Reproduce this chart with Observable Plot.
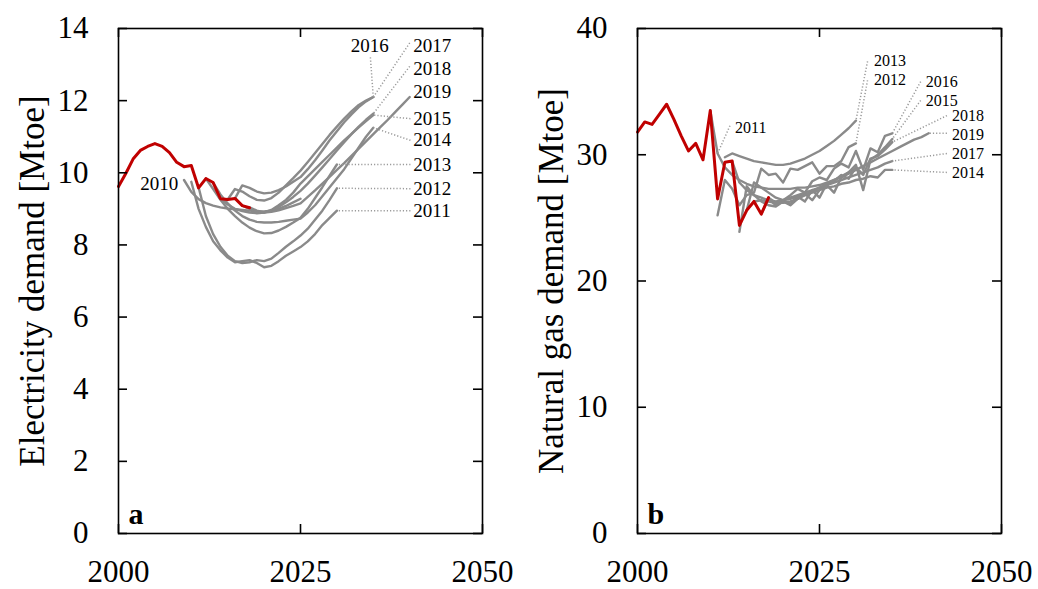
<!DOCTYPE html>
<html><head><meta charset="utf-8">
<script src="https://cdn.jsdelivr.net/npm/d3@7"></script>
<script src="https://cdn.jsdelivr.net/npm/@observablehq/plot@0.6"></script>
<style>
body{margin:0;background:#fff}
#wrap{display:flex;width:1038px;height:589px}
</style>
</head><body><div id="wrap"></div>
<script>
// ---------- data ----------
const histYears = [2000,2001,2002,2003,2004,2005,2006,2007,2008,2009,2010,2011,2012,2013,2014,2015,2016,2017,2018];
const elecHist = [9.62,9.98,10.38,10.62,10.73,10.81,10.73,10.56,10.29,10.17,10.2,9.58,9.84,9.73,9.28,9.26,9.29,9.09,9.03];
const gasHist  = [31.8,32.6,32.4,33.2,34.0,32.8,31.5,30.3,30.9,29.6,33.5,26.5,29.4,29.5,24.4,25.6,26.3,25.3,26.6];

const elecNames = ["2010","2011","2012","2013","2014","2015","2016","2017","2018","2019"];
const elecStart = [2009,2010,2011,2012,2013,2014,2015,2016,2017,2018];
const elec2010 = [9.80,9.47,9.27,9.16,9.09,9.04,9.01,8.99,8.97,8.95,8.93,8.93,8.95,9.00,9.08,9.18,9.28];
const elec2011 = [9.75,9.00,8.50,8.10,7.85,7.65,7.52,7.55,7.58,7.50,7.38,7.42,7.55,7.70,7.82,7.94,8.10,8.30,8.55,8.75,8.95];
const elec2012 = [9.60,8.80,8.30,7.95,7.70,7.55,7.50,7.52,7.58,7.55,7.62,7.78,7.95,8.10,8.26,8.45,8.70,8.95,9.25,9.57];
const elec2013 = [9.84,9.55,9.25,9.00,8.80,8.62,8.48,8.38,8.32,8.33,8.40,8.50,8.62,8.75,9.00,9.30,9.60,9.92,10.23];
const elec2014 = [9.73,9.40,9.15,8.95,8.80,8.70,8.64,8.62,8.62,8.64,8.67,8.70,8.73,8.90,9.10,9.35,9.60,9.85,10.10,10.40,10.70,11.00,11.25];
const elec2015 = [9.29,9.12,9.00,8.94,8.90,8.88,8.90,8.97,9.10,9.25,9.45,9.70,9.90,10.10,10.30,10.50,10.70,10.90,11.08,11.26,11.43,11.60];
const elec2016 = [9.26,9.55,9.48,9.35,9.25,9.23,9.30,9.45,9.65,9.85,10.06,10.30,10.55,10.80,11.05,11.28,11.50,11.70,11.88,12.00,12.10];
const elec2017 = [9.29,9.65,9.58,9.48,9.43,9.45,9.52,9.62,9.75,9.88,10.10,10.35,10.62,10.90,11.15,11.40,11.62,11.82,11.98,12.10];
const elec2018 = [9.09,9.00,8.92,8.90,8.95,9.05,9.18,9.33,9.50,9.70,9.92,10.15,10.38,10.62,10.85,11.07,11.28,11.47,11.64];
const elec2019 = [9.04,8.95,8.90,8.92,8.96,9.02,9.08,9.15,9.33,9.51,9.70,9.89,10.08,10.27,10.47,10.67,10.87,11.07,11.27,11.47,11.68,11.89,12.10];
const elecSeries = [elec2010,elec2011,elec2012,elec2013,elec2014,elec2015,elec2016,elec2017,elec2018,elec2019];

const gasNames = ["2011","2012","2013","2014","2015","2016","2017","2018","2019"];
const gasStart = [2010,2011,2012,2013,2014,2015,2016,2017,2018];
const gas2011 = [33.5,30.1,29.0,28.4,28.0,27.7,27.5,27.4,27.3,27.3,27.3,27.3,27.4,27.4,27.5,27.6,27.8,28.0,28.3,28.6,28.9];
const gas2012 = [25.2,28.0,27.3,26.0,26.8,27.0,28.9,28.4,28.5,27.8,28.9,28.8,29.1,29.4,28.5,29.1,29.1,29.5,30.6,30.9];
const gas2013 = [29.8,30.1,29.9,29.7,29.5,29.4,29.3,29.2,29.2,29.3,29.5,29.7,30.0,30.3,30.7,31.1,31.6,32.1,32.7];
const gas2014 = [29.5,27.8,27.2,26.8,26.6,26.4,26.3,26.4,26.5,26.7,26.8,27.0,27.2,27.4,27.5,27.7,27.8,28.0,28.1,28.3,28.2,28.8,28.8];
const gas2015 = [23.9,27.5,26.8,26.3,26.0,25.9,26.3,26.0,26.5,26.9,26.4,27.2,27.6,27.0,28.2,28.6,29.2,27.2,29.6,30.0,30.6,31.25];
const gas2016 = [25.6,27.8,27.4,27.0,26.6,26.4,26.8,27.3,27.0,27.9,28.2,28.0,28.9,29.3,29.0,30.3,28.8,30.5,30.2,31.5,31.7];
const gas2017 = [26.3,26.4,26.3,26.2,26.4,26.6,26.8,27.0,27.2,27.4,27.6,27.8,28.0,28.2,28.4,28.6,28.8,29.0,29.3,29.5];
const gas2018 = [25.3,26.5,26.0,26.3,26.1,26.7,26.3,27.2,26.6,27.7,27.9,28.4,28.1,29.0,28.4,29.7,29.9,30.4,31.0];
const gas2019 = [26.6,26.2,26.2,26.3,26.5,26.8,27.1,27.4,27.7,28.0,28.2,28.5,28.8,29.1,29.4,29.7,30.0,30.3,30.6,30.9,31.2,31.4,31.7];
const gasSeries = [gas2011,gas2012,gas2013,gas2014,gas2015,gas2016,gas2017,gas2018,gas2019];

// label annotations (data units)
const elecLabelX = [2008.2,2040.5,2040.5,2040.5,2040.5,2040.5,2034.5,2040.5,2040.5,2040.5];
const elecLabelY = [9.7,8.95,9.56,10.23,10.9,11.5,13.53,13.53,12.89,12.25];
const elecLabelAnchor = ["end","start","start","start","start","start","middle","start","start","start"];
const elecLeaderX = [null,2040.1,2040.1,2040.1,2040.1,2040.1,2034.6,2040.0,2040.0,null];
const elecLeaderY = [null,8.95,9.56,10.23,10.9,11.5,13.2,13.6,12.95,null];

const gasLabelX = [2013.4,2032.5,2032.5,2043.2,2039.6,2039.6,2043.2,2043.2,2043.2];
const gasLabelY = [32.1,35.9,37.4,28.6,34.3,35.8,30.1,33.1,31.6];
const gasLabelAnchor = ["start","start","start","start","start","start","start","start","start"];
const gasLeaderX = [2012.7,2031.6,2031.6,2042.5,2038.9,2038.9,2042.5,2042.5,2042.5];
const gasLeaderY = [32.3,35.9,37.4,28.6,34.3,35.8,30.1,33.1,31.7];
const gasLeaderTo = [2011,2030,2030,2035,2035,2035,2035,2035,2040];

const xTicks = [2000,2025,2050];
const elecTicks = [0,2,4,6,8,10,12,14];
const gasTicks = [0,10,20,30,40];

// ---------- build ----------
const W = 519, H = 589, ML = 118, MR = 37, MT = 28, MB = 56, TICK = 9;
const PW = W - ML - MR, PH = H - MT - MB;

function rows(names, starts, series) {
  const out = [];
  names.forEach((n, i) => series[i].forEach((v, j) => out.push({series: n, year: starts[i] + j, value: v})));
  return out;
}

function panel(cfg) {
  const proj = rows(cfg.names, cfg.starts, cfg.series);
  const hist = histYears.map((y, i) => ({year: y, value: cfg.hist[i]}));
  const labels = cfg.names.map((n, i) => ({text: n, x: cfg.labelX[i], y: cfg.labelY[i], anchor: cfg.labelAnchor[i]}));
  const leaders = [];
  cfg.names.forEach((n, i) => {
    if (cfg.leaderX[i] == null) return;
    const si = cfg.series[i];
    const toYear = cfg.leaderTo ? cfg.leaderTo[i] : cfg.starts[i] + si.length - 1;
    leaders.push({x1: cfg.leaderX[i], y1: cfg.leaderY[i], x2: toYear, y2: si[toYear - cfg.starts[i]]});
  });
  const textFor = (anchor) => Plot.text(labels.filter(d => d.anchor === anchor),
    {x: "x", y: "y", text: "text", textAnchor: anchor, fontSize: cfg.labelSize, fill: "#000"});
  const tk = {stroke: "#000", strokeWidth: 1.6};
  return Plot.plot({
    width: W, height: H,
    marginLeft: ML, marginRight: MR, marginTop: MT, marginBottom: MB,
    x: {domain: [2000, 2050]},
    y: {domain: cfg.yDomain},
    style: {fontFamily: "'Liberation Serif','Times New Roman',serif", fontSize: "31px", color: "#000", background: "#fff", overflow: "visible"},
    marks: [
      Plot.line(proj, {x: "year", y: "value", z: "series", stroke: "#8a8a8a", strokeWidth: 2.4}),
      Plot.line(hist, {x: "year", y: "value", stroke: "#c00000", strokeWidth: 3}),
      Plot.link(leaders, {x1: "x1", y1: "y1", x2: "x2", y2: "y2", stroke: "#9a9a9a", strokeWidth: 1.5, strokeDasharray: "1.2,2"}),
      textFor("start"), textFor("end"), textFor("middle"),
      Plot.frame({stroke: "#000", strokeWidth: 1.6}),
      // inward ticks on all four sides
      Plot.tickX(xTicks, {x: d => d, insetTop: PH - TICK, ...tk}),
      Plot.tickX(xTicks, {x: d => d, insetBottom: PH - TICK, ...tk}),
      Plot.tickY(cfg.yTicks, {y: d => d, insetRight: PW - TICK, ...tk}),
      Plot.tickY(cfg.yTicks, {y: d => d, insetLeft: PW - TICK, ...tk}),
      Plot.axisX({ticks: xTicks, tickSize: 0, tickPadding: 26, tickFormat: d => String(d), label: null, fontSize: 31}),
      Plot.axisY({ticks: cfg.yTicks, tickSize: 0, tickPadding: 30, label: null, fontSize: 31}),
      Plot.text([cfg.yLabel], {frameAnchor: "left", textAnchor: "middle", lineAnchor: "middle", rotate: -90, dx: -86, fontSize: 35, fill: "#000"}),
      Plot.text([cfg.letter], {frameAnchor: "bottom-left", textAnchor: "start", dx: 10, dy: -10, lineAnchor: "bottom", fontWeight: "bold", fontSize: 30})
    ]
  });
}

const wrap = document.getElementById("wrap");
wrap.append(panel({
  names: elecNames, starts: elecStart, series: elecSeries, hist: elecHist,
  labelX: elecLabelX, labelY: elecLabelY, labelAnchor: elecLabelAnchor, labelSize: 19,
  leaderX: elecLeaderX, leaderY: elecLeaderY,
  yDomain: [0, 14], yTicks: elecTicks, yLabel: "Electricity demand [Mtoe]", letter: "a"
}));
wrap.append(panel({
  names: gasNames, starts: gasStart, series: gasSeries, hist: gasHist,
  labelX: gasLabelX, labelY: gasLabelY, labelAnchor: gasLabelAnchor, labelSize: 16,
  leaderX: gasLeaderX, leaderY: gasLeaderY, leaderTo: gasLeaderTo,
  yDomain: [0, 40], yTicks: gasTicks, yLabel: "Natural gas demand [Mtoe]", letter: "b"
}));
</script></body></html>
